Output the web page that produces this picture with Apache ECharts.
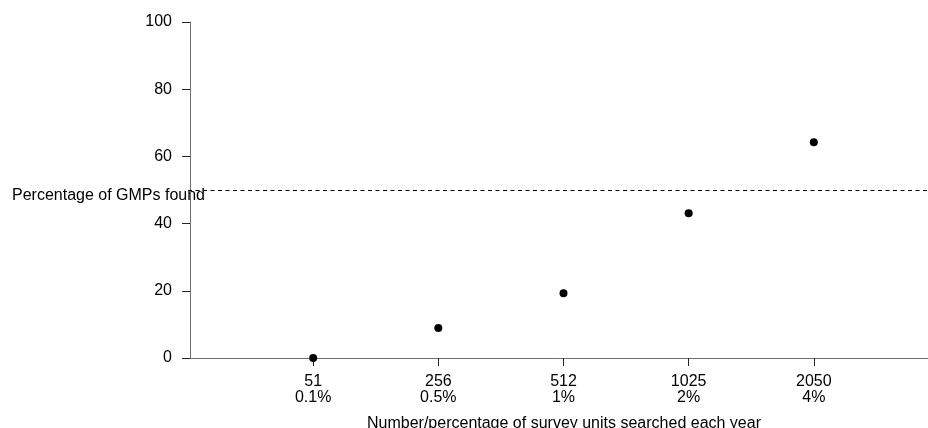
<!DOCTYPE html>
<html>
<head>
<meta charset="utf-8">
<script src="https://cdn.jsdelivr.net/npm/echarts@6/dist/echarts.min.js"></script>
<style>
html,body{margin:0;padding:0;background:#fff;}
#chart{width:928px;height:428px;}
</style>
</head>
<body>
<div id="chart"></div>
<script>
const unitCounts = ['51', '256', '512', '1025', '2050'];
const unitPercents = ['0.1%', '0.5%', '1%', '2%', '4%'];
const gmpsFound = [0, 8.9, 19.3, 43.1, 64.2];
const yTicks = [0, 20, 40, 60, 80, 100];
const referenceLevel = 50;
const yTitle = 'Percentage of GMPs found';
const xTitle = 'Number/percentage of survey units searched each year';

const positions = unitCounts.map((_, i) => i + 1);
const points = positions.map((p, i) => [p, gmpsFound[i]]);
const FONT = '"Liberation Sans", Arial, sans-serif';

const chart = echarts.init(document.getElementById('chart'), null, {renderer: 'canvas'});
chart.setOption({
  animation: false,
  backgroundColor: '#fff',
  grid: {left: 188, top: 22, bottom: 70, width: 751, containLabel: false, outerBoundsMode: 'none'},
  xAxis: {
    type: 'value',
    min: 0,
    max: positions.length + 1,
    interval: 1,
    splitLine: {show: false},
    axisLine: {show: true, lineStyle: {color: '#6e6e6e', width: 1}},
    axisTick: {show: true, length: 8, lineStyle: {color: '#222'}, customValues: positions},
    axisLabel: {
      customValues: positions,
      color: '#000', fontSize: 16, fontFamily: FONT, lineHeight: 16, margin: 16,
      formatter: v => {
        const i = Math.round(v) - 1;
        return (i >= 0 && i < unitCounts.length) ? unitCounts[i] + '\n' + unitPercents[i] : '';
      }
    }
  },
  yAxis: {
    type: 'value',
    min: yTicks[0],
    max: yTicks[yTicks.length - 1],
    interval: 20,
    offset: -2,
    splitLine: {show: false},
    axisLine: {show: true, lineStyle: {color: '#6e6e6e', width: 1}},
    axisTick: {show: true, length: 8, lineStyle: {color: '#222'}},
    axisLabel: {color: '#000', fontSize: 16, fontFamily: FONT, margin: 18}
  },
  graphic: [
    {type: 'text', left: 12, top: 188, style: {text: yTitle, fill: '#000', font: '16px ' + FONT}},
    {type: 'text', x: 564, y: 424, style: {text: xTitle, fill: '#000', font: '16px ' + FONT, textAlign: 'center', textVerticalAlign: 'middle'}}
  ],
  series: [{
    type: 'scatter',
    data: points,
    symbol: 'circle',
    symbolSize: 8,
    itemStyle: {color: '#000', opacity: 1},
    markLine: {
      silent: true,
      symbol: 'none',
      label: {show: false},
      lineStyle: {color: '#000', width: 1, type: [4, 3.5]},
      data: [{yAxis: referenceLevel}]
    }
  }]
});
</script>
</body>
</html>
